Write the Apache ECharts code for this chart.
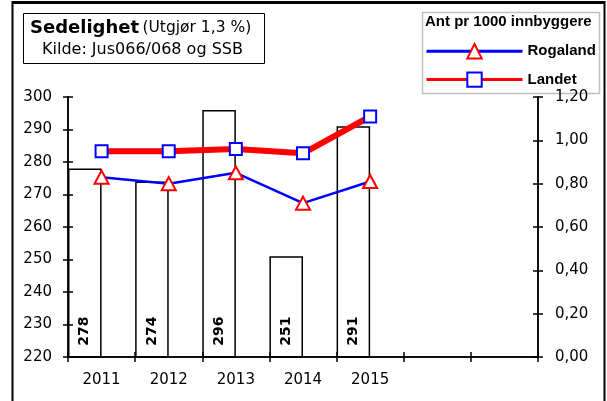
<!DOCTYPE html>
<html>
<head>
<meta charset="utf-8">
<script src="https://cdn.jsdelivr.net/npm/echarts@6/dist/echarts.min.js"></script>
<style>html,body{margin:0;padding:0;background:#fff;}#c{width:607px;height:401px;}</style>
</head>
<body>
<div id="c"></div>
<script>
const categories = ['2011', '2012', '2013', '2014', '2015', '', ''];
const sedelighet = [278, 274, 296, 251, 291];
const rogaland = [0.83, 0.80, 0.85, 0.71, 0.81];
const landet = [0.95, 0.95, 0.96, 0.94, 1.11];
const titleMain = 'Sedelighet';
const titleSub = '(Utgjør 1,3 %)';
const sourceText = 'Kilde: Jus066/068 og SSB';
const legendTitle = 'Ant pr 1000 innbyggere';
const seriesNames = ['Rogaland', 'Landet'];

const FONT = '"DejaVu Sans", sans-serif';
const LFONT = '"Liberation Sans", Arial, sans-serif';
const chart = echarts.init(document.getElementById('c'), null, {renderer: 'canvas'});

const axisLine = {show: true, lineStyle: {color: '#000', width: 1.5}};
const tickOut = {show: true, length: 5, lineStyle: {color: '#000', width: 1.5}};
const tickIn = {show: true, inside: true, length: 5, lineStyle: {color: '#000', width: 1.5}};

chart.setOption({
  animation: false,
  backgroundColor: '#fff',
  grid: [
    {left: 68, right: 69, top: 97, bottom: 44, containLabel: false},
    {left: 68, right: 69, top: 97, bottom: 44, containLabel: false}
  ],
  legend: {
    data: seriesNames,
    orient: 'vertical',
    left: 420,
    top: 38,
    itemWidth: 96,
    itemHeight: 18,
    itemGap: 12,
    lineStyle: {width: 3},
    textStyle: {fontFamily: LFONT, fontWeight: 'bold', fontSize: 15, color: '#000'},
    selectedMode: false
  },
  xAxis: [
    {type: 'category', gridIndex: 0, data: categories, boundaryGap: true, z: 10,
      axisLine: axisLine, axisTick: tickOut,
      axisLabel: {fontFamily: FONT, fontSize: 15, color: '#000', margin: 16}},
    {type: 'category', gridIndex: 1, data: categories, boundaryGap: true, position: 'bottom', z: 10,
      axisLine: axisLine, axisTick: tickIn, axisLabel: {show: false}}
  ],
  yAxis: [
    {type: 'value', gridIndex: 0, min: 220, max: 300, interval: 10, position: 'left', z: 10,
      axisLine: axisLine, axisTick: tickOut, splitLine: {show: false},
      axisLabel: {fontFamily: FONT, fontSize: 15, color: '#000', margin: 16}},
    {type: 'value', gridIndex: 0, min: 0, max: 1.2, interval: 0.2, position: 'right', z: 10,
      axisLine: axisLine, axisTick: tickOut, splitLine: {show: false},
      axisLabel: {fontFamily: FONT, fontSize: 15, color: '#000', margin: 17,
        formatter: v => v.toFixed(2).replace('.', ',')}},
    {type: 'value', gridIndex: 1, min: 220, max: 300, interval: 10, position: 'left', z: 10,
      axisLine: axisLine, axisTick: tickIn, splitLine: {show: false}, axisLabel: {show: false}},
    {type: 'value', gridIndex: 1, min: 0, max: 1.2, interval: 0.2, position: 'right', z: 10,
      axisLine: axisLine, axisTick: tickIn, splitLine: {show: false}, axisLabel: {show: false}}
  ],
  series: [
    {type: 'bar', name: titleMain, data: sedelighet, xAxisIndex: 0, yAxisIndex: 0,
      barGap: '0%', barCategoryGap: '0%',
      itemStyle: {color: '#fff', borderColor: '#000', borderWidth: 1.5},
      label: {show: true, position: 'insideBottom', rotate: 90, align: 'left', verticalAlign: 'middle',
        distance: 12, fontFamily: FONT, fontWeight: 'bold', fontSize: 14, color: '#000'}},
    {type: 'bar', name: 'tom', data: [], xAxisIndex: 0, yAxisIndex: 0, barGap: '0%', barCategoryGap: '0%'},
    {type: 'line', name: seriesNames[0], data: rogaland, xAxisIndex: 0, yAxisIndex: 1,
      z: 3, symbol: 'triangle', symbolSize: [14, 13],
      lineStyle: {color: '#0000ff', width: 2.5},
      itemStyle: {color: '#fff', borderColor: '#ff0000', borderWidth: 2}},
    {type: 'line', name: seriesNames[1], data: landet, xAxisIndex: 0, yAxisIndex: 1,
      z: 4, symbol: 'rect', symbolSize: 12,
      lineStyle: {color: '#ff0000', width: 6},
      itemStyle: {color: '#fff', borderColor: '#0000ff', borderWidth: 2}},
    {type: 'line', name: 'hjelp1', data: [], xAxisIndex: 1, yAxisIndex: 2, silent: true, showSymbol: false},
    {type: 'line', name: 'hjelp2', data: [], xAxisIndex: 1, yAxisIndex: 3, silent: true, showSymbol: false}
  ],
  graphic: [
    {type: 'line', shape: {x1: 12, y1: 2.5, x2: 605, y2: 2.5}, style: {stroke: '#000', lineWidth: 3}},
    {type: 'line', shape: {x1: 12.5, y1: 1, x2: 12.5, y2: 401}, style: {stroke: '#000', lineWidth: 2}},
    {type: 'line', shape: {x1: 604.5, y1: 1, x2: 604.5, y2: 401}, style: {stroke: '#000', lineWidth: 2}},
    {type: 'rect', shape: {x: 23.5, y: 13.5, width: 241, height: 50}, style: {fill: '#fff', stroke: '#000', lineWidth: 1}},
    {type: 'text', left: 30, top: 19, style: {
      text: '{a|' + titleMain + '} {b|' + titleSub + '}',
      rich: {a: {fontFamily: FONT, fontWeight: 'bold', fontSize: 18, fill: '#000'},
             b: {fontFamily: FONT, fontSize: 15.5, fill: '#000'}}}},
    {type: 'text', left: 42, top: 42, style: {text: sourceText, fontFamily: FONT, fontSize: 16, fill: '#000'}},
    {type: 'rect', z: -1, shape: {x: 422.5, y: 12.5, width: 177, height: 81}, style: {fill: '#fff', stroke: '#c0c0c0', lineWidth: 1.5}},
    {type: 'text', left: 425, top: 14, style: {text: legendTitle, fontFamily: LFONT, fontWeight: 'bold', fontSize: 15, fill: '#000'}}
  ]
});
</script>
</body>
</html>
